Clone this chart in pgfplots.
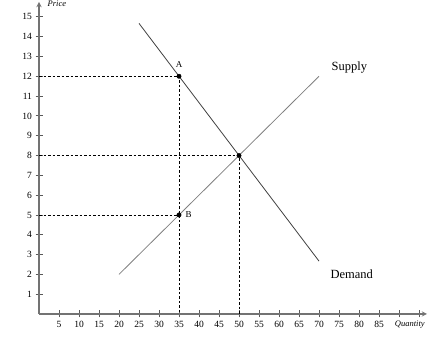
\documentclass[border=0pt]{standalone}
\usepackage{pgfplots}
\pgfplotsset{compat=1.18}
\usepackage{fontspec}
\setmainfont{Liberation Serif}
\begin{document}
\begin{tikzpicture}[x=1pt,y=1pt]
\useasboundingbox (0,0) rectangle (430,352);
\begin{axis}[
  at={(39pt,38pt)}, anchor=south west,
  scale only axis, width=388pt, height=312pt,
  xmin=0, xmax=97, ymin=0, ymax=15.75,
  axis lines=left,
  axis line style={black!55, line width=1.3pt},
  clip=false,
  xtick={5,10,...,95},
  xticklabels={5,10,15,20,25,30,35,40,45,50,55,60,65,70,75,80,85,,},
  ytick={1,...,15},
  tick align=center,
  major tick length=7pt,
  tick style={black!65, line width=0.8pt},
  tick label style={font=\fontsize{9.5}{10}\selectfont},
  /pgf/number format/assume math mode=true,
  xticklabel style={yshift=0pt},
  yticklabel style={xshift=0pt},
]
% dashed guide lines
\addplot[black, thin, dash pattern=on 2.5pt off 2pt] coordinates {(0,12) (35,12) (35,0)};
\addplot[black, thin, dash pattern=on 2.5pt off 2pt] coordinates {(0,5) (35,5)};
\addplot[black, thin, dash pattern=on 2.5pt off 2pt] coordinates {(0,8) (50,8) (50,0)};
% supply and demand
\addplot[black!50, line width=0.8pt] coordinates {(20,2) (70,12)};
\addplot[black!75, line width=0.8pt] coordinates {(25,14.67) (70,2.67)};
% points
\addplot[only marks, mark=*, mark size=2.2pt, black] coordinates {(35,12) (35,5) (50,8)};
% labels
\node[anchor=south] at (axis cs:35,12.25) {\fontsize{9}{10}\selectfont A};
\node[anchor=west] at (axis cs:35.8,5) {\fontsize{9}{10}\selectfont B};
\node[anchor=west] at (axis cs:72.3,12.45) {\fontsize{12.5}{13}\selectfont Supply};
\node[anchor=west] at (axis cs:72,2.0) {\fontsize{12.5}{13}\selectfont Demand};
\node[anchor=west] at (axis cs:1.3,15.68) {\fontsize{8.5}{9}\selectfont\itshape Price};
\node at (axis cs:92.7,-0.55) {\fontsize{8.5}{9}\selectfont\itshape Quantity};
\end{axis}
\end{tikzpicture}
\end{document}
